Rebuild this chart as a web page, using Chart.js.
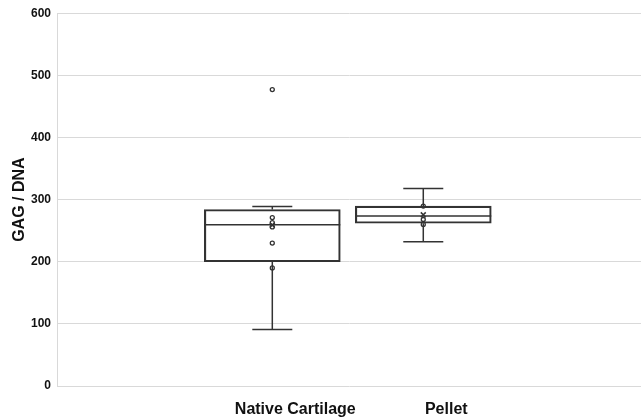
<!DOCTYPE html>
<html>
<head>
<meta charset="utf-8">
<script src="https://cdn.jsdelivr.net/npm/chart.js@4"></script>
<style>
  html, body { margin: 0; padding: 0; background: #fff; }
  #wrap { width: 641px; height: 420px; position: relative; }
</style>
</head>
<body>
<div id="wrap"><canvas id="boxChart"></canvas></div>
<script>
// Categorias e estatísticas de cada caixa
const categories = ['Native Cartilage', 'Pellet'];
const positions = [1, 2];
const whiskerLow = [91, 232];
const q1 = [200, 262];
const median = [259.5, 273.5];
const q3 = [284, 289.5];
const whiskerHigh = [289, 318];
const means = [259, 275.5];

// Pontos individuais (inner points + outlier)
const nativePoints = [477, 271, 263, 256, 230, 190];
const pelletPoints = [289.5, 268, 260];

const yTicks = [0, 100, 200, 300, 400, 500, 600];

const lineColor = '#333333';
const gridColor = '#d9d9d9';

// Plugin que desenha bigodes e mediana usando as escalas do gráfico
const whiskerPlugin = {
  id: 'whiskers',
  beforeDatasetsDraw(chart, args, opts) {
    const { ctx, scales: { x, y } } = chart;
    ctx.save();
    ctx.strokeStyle = opts.color;
    ctx.lineWidth = opts.lineWidth;
    positions.forEach((p, i) => {
      const cx = x.getPixelForValue(p);
      const half = opts.capWidth / 2;
      const boxHalf = opts.boxWidth / 2;
      ctx.beginPath();
      // bigode superior
      ctx.moveTo(cx, y.getPixelForValue(q3[i]));
      ctx.lineTo(cx, y.getPixelForValue(whiskerHigh[i]));
      ctx.moveTo(cx - half, y.getPixelForValue(whiskerHigh[i]));
      ctx.lineTo(cx + half, y.getPixelForValue(whiskerHigh[i]));
      // bigode inferior
      ctx.moveTo(cx, y.getPixelForValue(q1[i]));
      ctx.lineTo(cx, y.getPixelForValue(whiskerLow[i]));
      ctx.moveTo(cx - half, y.getPixelForValue(whiskerLow[i]));
      ctx.lineTo(cx + half, y.getPixelForValue(whiskerLow[i]));
      // mediana
      ctx.moveTo(cx - boxHalf, y.getPixelForValue(median[i]));
      ctx.lineTo(cx + boxHalf, y.getPixelForValue(median[i]));
      ctx.stroke();
    });
    ctx.restore();
  }
};

const ctx = document.getElementById('boxChart').getContext('2d');
new Chart(ctx, {
  type: 'bar',
  data: {
    datasets: [
      {
        type: 'bar',
        label: 'Box',
        data: positions.map((p, i) => ({ x: p, y: [q1[i], q3[i]] })),
        backgroundColor: 'rgba(0,0,0,0)',
        borderColor: lineColor,
        borderWidth: 1.5,
        borderSkipped: false,
        barThickness: 136,
        order: 3
      },
      {
        type: 'scatter',
        label: 'Native points',
        data: nativePoints.map(v => ({ x: positions[0], y: v })),
        pointStyle: 'circle',
        pointRadius: 2,
        pointBorderWidth: 1.3,
        pointBorderColor: lineColor,
        pointBackgroundColor: 'rgba(0,0,0,0)',
        order: 1
      },
      {
        type: 'scatter',
        label: 'Pellet points',
        data: pelletPoints.map(v => ({ x: positions[1], y: v })),
        pointStyle: 'circle',
        pointRadius: 2,
        pointBorderWidth: 1.3,
        pointBorderColor: lineColor,
        pointBackgroundColor: 'rgba(0,0,0,0)',
        order: 1
      },
      {
        type: 'scatter',
        label: 'Mean',
        data: means.map((v, i) => ({ x: positions[i], y: v })),
        pointStyle: 'crossRot',
        pointRadius: 3.5,
        pointBorderWidth: 1.5,
        pointBorderColor: lineColor,
        order: 0
      }
    ]
  },
  options: {
    responsive: true,
    maintainAspectRatio: false,
    animation: false,
    layout: { autoPadding: false, padding: { top: 13, right: 0, left: 0, bottom: 0 } },
    plugins: {
      legend: { display: false },
      tooltip: { enabled: false },
      whiskers: { color: lineColor, lineWidth: 1.5, capWidth: 40, boxWidth: 136 }
    },
    scales: {
      x: {
        type: 'linear',
        offset: false,
        min: -0.426,
        max: 3.442,
        grid: { display: false },
        border: { display: false },
        afterBuildTicks(scale) {
          scale.ticks = positions.map(v => ({ value: v }));
        },
        afterFit(scale) { scale.height = 34; },
        ticks: {
          autoSkip: false,
          maxRotation: 0,
          labelOffset: 23,
          padding: 6,
          color: '#111',
          font: { family: 'Liberation Sans', size: 16, weight: 'bold' },
          callback: (v) => categories[positions.indexOf(v)] || ''
        }
      },
      y: {
        min: 0,
        max: 600,
        afterBuildTicks(scale) {
          scale.ticks = yTicks.map(v => ({ value: v }));
        },
        afterFit(scale) { scale.width = 57; },
        grid: { color: gridColor, drawTicks: false, lineWidth: 1 },
        border: { color: gridColor },
        ticks: {
          padding: 6,
          color: '#111',
          font: { family: 'Liberation Sans', size: 12, weight: 'bold' }
        },
        title: {
          display: true,
          text: 'GAG / DNA',
          color: '#111',
          padding: { top: 10, bottom: 4 },
          font: { family: 'Liberation Sans', size: 16, weight: 'bold' }
        }
      }
    }
  },
  plugins: [whiskerPlugin]
});
</script>
</body>
</html>
